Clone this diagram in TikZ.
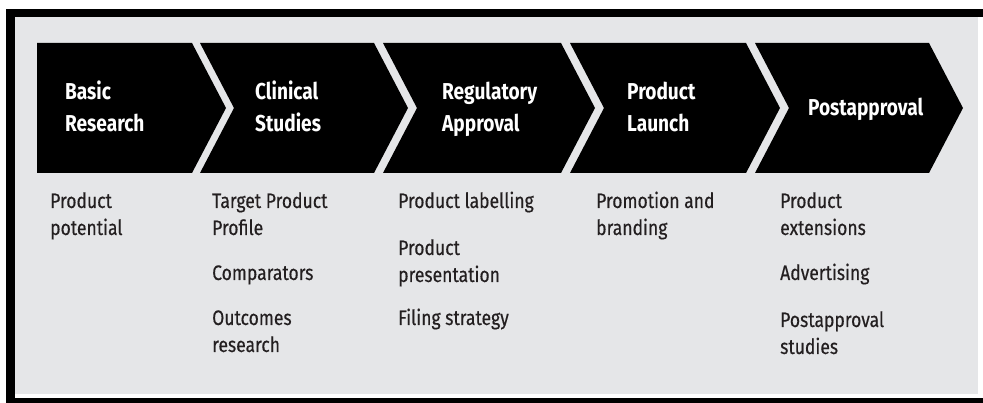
\documentclass[tikz,border=0pt]{standalone}
\usepackage{fontspec}
\setmainfont{Fira Sans}[FakeStretch=0.83]
\newfontfamily\bodyfont{Fira Sans}[FakeStretch=0.835, FakeBold=0.35]
\definecolor{bggrey}{HTML}{E5E6E8}
\definecolor{ink}{HTML}{231F20}
\newcommand\txtlines[1]{\begin{tabular}[t]{@{}l@{}}#1\end{tabular}}
\tikzset{
  chev/.style={fill=black},
  head/.style={anchor=base west, inner sep=0pt, text=white, font=\bfseries\fontsize{23}{32}\selectfont},
  item/.style={anchor=base west, inner sep=0pt, text=ink, font=\bodyfont\fontsize{21}{27}\selectfont},
}
\begin{document}
\begin{tikzpicture}[x=1pt,y=-1pt]
\useasboundingbox (0,0) rectangle (983,403);
% frame
\fill[white] (0,0) rectangle (983,403);
\fill[black] (6,9) rectangle (983,17);
\fill[black] (6,9) rectangle (15,403);
\fill[black] (6,398) rectangle (983,403);
\fill[bggrey] (15,17) rectangle (978,394);
% chevrons
\fill[chev] (37,43) -- (192,43) -- (226,108) -- (192,173) -- (37,173) -- cycle;
\fill[chev] (200,43) -- (374,43) -- (408,108) -- (374,173) -- (200,173) -- (234,108) -- cycle;
\fill[chev] (383,43) -- (561,43) -- (595,108) -- (561,173) -- (383,173) -- (417,108) -- cycle;
\fill[chev] (570,43) -- (746,43) -- (780,108) -- (746,173) -- (570,173) -- (604,108) -- cycle;
\fill[chev] (755,43) -- (929,43) -- (963,108) -- (929,173) -- (755,173) -- (789,108) -- cycle;
% headings
\node[head] (h1) at (65,100) {\txtlines{Basic\\Research}};
\node[head] (h2) at (255,100) {\txtlines{Clinical\\Studies}};
\node[head] (h3) at (442,100) {\txtlines{Regulatory\\Approval}};
\node[head] (h4) at (627,100) {\txtlines{Product\\Launch}};
\node[head] (h5) at (808,116) {Postapproval};
% column 1
\node[item] (a1) at (50,208) {\txtlines{Product\\potential}};
% column 2
\node[item] (b1) at (212,208) {\txtlines{Target Product\\Profile}};
\node[item] (b2) at (212,280) {Comparators};
\node[item] (b3) at (212,325) {\txtlines{Outcomes\\research}};
% column 3
\node[item] (c1) at (398,208) {Product labelling};
\node[item] (c2) at (398,255) {\txtlines{Product\\presentation}};
\node[item] (c3) at (398,325) {Filing strategy};
% column 4
\node[item] (d1) at (596,208) {\txtlines{Promotion and\\branding}};
% column 5
\node[item] (e1) at (780,208) {\txtlines{Product\\extensions}};
\node[item] (e2) at (780,280) {Advertising};
\node[item] (e3) at (780,327) {\txtlines{Postapproval\\studies}};
\end{tikzpicture}
\end{document}
